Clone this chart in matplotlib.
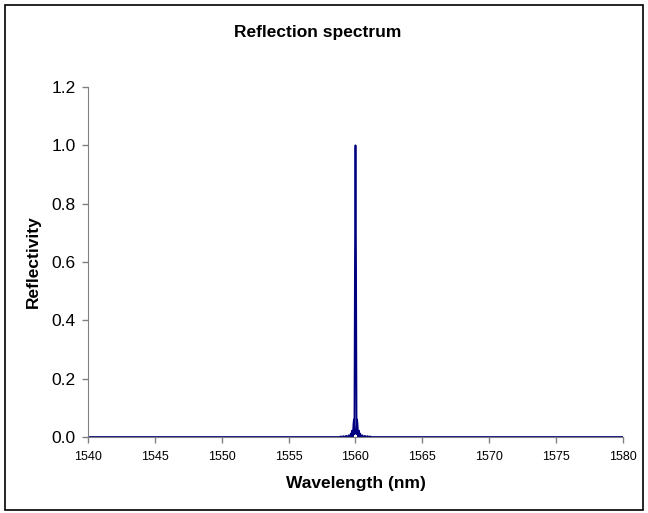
#reflection spectrum of a grating, excel-ish look
import numpy as np
import matplotlib
matplotlib.use("Agg")
import matplotlib.pyplot as plt
from matplotlib.patches import Rectangle

plt.rcParams['font.family'] = ['Liberation Sans', 'DejaVu Sans']

#values, peak at 1560 nm with small sidelobes
wavelength_nm = [1540.0, 1558.8, 1558.9, 1559.0, 1559.1, 1559.2, 1559.3, 1559.4,
                 1559.5, 1559.6, 1559.65, 1559.7, 1559.75, 1559.8, 1559.85,
                 1559.88, 1559.92, 1559.96, 1560.0, 1560.04, 1560.08, 1560.12,
                 1560.15, 1560.2, 1560.25, 1560.3, 1560.35, 1560.4, 1560.5,
                 1560.6, 1560.7, 1560.8, 1560.9, 1561.0, 1561.1, 1561.2, 1580.0]
reflectivity = [0.0, 0.0, 0.002, 0.0, 0.003, 0.0, 0.004, 0.0,
                0.006, 0.0, 0.012, 0.0, 0.022, 0.0, 0.045,
                0.06, 0.01, 0.6, 1.0, 0.6, 0.01, 0.06,
                0.045, 0.0, 0.022, 0.0, 0.012, 0.0, 0.006,
                0.0, 0.004, 0.0, 0.003, 0.0, 0.002, 0.0, 0.0]

x_ticks = [1540, 1545, 1550, 1555, 1560, 1565, 1570, 1575, 1580]
y_ticks = [0.0, 0.2, 0.4, 0.6, 0.8, 1.0, 1.2]

fig = plt.figure(figsize=(6.48, 5.13), dpi=100)
ax = fig.add_axes([0.1358, 0.1481, 0.8256, 0.6823])

ax.plot(wavelength_nm, reflectivity, color="#000080", lw=1.3)

ax.set_xlim(1540, 1580)
ax.set_ylim(0, 1.2)
ax.set_xticks(x_ticks)
ax.set_yticks(y_ticks)
ax.set_xticklabels([str(t) for t in x_ticks], fontsize=9)
ax.set_yticklabels(["%.1f" % t for t in y_ticks], fontsize=12.5)

for s in ["top", "right"]:
    ax.spines[s].set_visible(False)
for s in ["left", "bottom"]:
    ax.spines[s].set_color("#808080")
ax.tick_params(direction="out", length=4, color="#808080", width=1)
ax.tick_params(axis="x", pad=6)
ax.tick_params(axis="y", pad=5)

ax.set_xlabel("Wavelength (nm)", fontsize=12.5, fontweight="bold", va="center")
ax.xaxis.set_label_coords(0.5, -0.134)
ax.set_ylabel("Reflectivity", fontsize=12.5, fontweight="bold", va="center")
ax.yaxis.set_label_coords(-0.102, 0.5)
fig.text(0.49, 1 - 33 / 513, "Reflection spectrum", ha="center", va="center",
         fontsize=12.5, fontweight="bold")

#outer border like the excel chart area
fig.patches.append(Rectangle((0.008, 0.006), 0.984, 0.984, transform=fig.transFigure,
                             fill=False, edgecolor="black", lw=1.2))

fig.savefig("out.png", dpi=100)
